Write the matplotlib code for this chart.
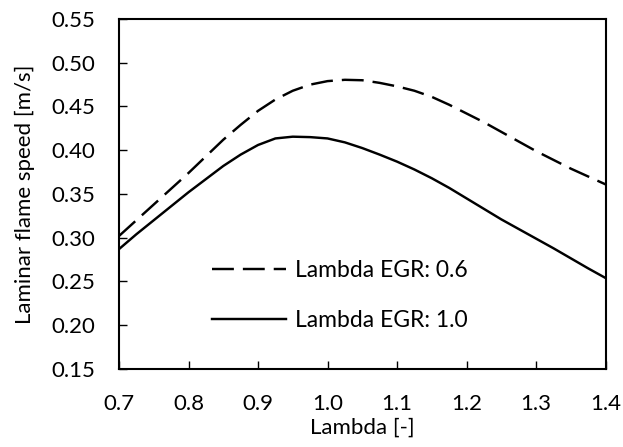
import matplotlib
import matplotlib.pyplot as plt

matplotlib.use('Agg')

plt.rcParams['font.family'] = ['Lato', 'DejaVu Sans']

# Laminar flame speed vs. lambda for two EGR lambdas
lambda_vals = [0.700, 0.725, 0.750, 0.775, 0.800, 0.825, 0.850, 0.875,
               0.900, 0.925, 0.950, 0.975, 1.000, 1.025, 1.050, 1.075,
               1.100, 1.125, 1.150, 1.175, 1.200, 1.225, 1.250, 1.275,
               1.300, 1.325, 1.350, 1.375, 1.400]
speed_egr_06 = [0.302, 0.320, 0.338, 0.356, 0.374, 0.393, 0.412, 0.429,
                0.445, 0.458, 0.468, 0.475, 0.479, 0.4805, 0.480, 0.477,
                0.473, 0.468, 0.461, 0.452, 0.442, 0.432, 0.421, 0.410,
                0.399, 0.389, 0.379, 0.370, 0.361]
speed_egr_10 = [0.287, 0.304, 0.320, 0.336, 0.352, 0.367, 0.382, 0.395,
                0.406, 0.4135, 0.4155, 0.415, 0.4135, 0.409, 0.4025, 0.395,
                0.387, 0.378, 0.368, 0.357, 0.345, 0.333, 0.321, 0.310,
                0.299, 0.288, 0.2765, 0.265, 0.254]

x_ticks = [0.7, 0.8, 0.9, 1.0, 1.1, 1.2, 1.3, 1.4]
y_ticks = [0.15, 0.20, 0.25, 0.30, 0.35, 0.40, 0.45, 0.50, 0.55]

fig = plt.figure(figsize=(6.23, 4.47), dpi=100)
ax = fig.add_axes([0.191, 0.1745, 0.781, 0.783])

ax.plot(lambda_vals, speed_egr_06, color='black', lw=1.75,
        dashes=(9.0, 3.7), label='Lambda EGR: 0.6')
ax.plot(lambda_vals, speed_egr_10, color='black', lw=1.75,
        label='Lambda EGR: 1.0')

ax.set_xlim(0.7, 1.4)
ax.set_ylim(0.15, 0.55)
ax.set_xticks(x_ticks)
ax.set_yticks(y_ticks)
ax.set_xticklabels([f'{t:.1f}' for t in x_ticks])
ax.set_yticklabels([f'{t:.2f}' for t in y_ticks])
ax.tick_params(direction='in', length=6, width=1, labelsize=16,
               top=False, right=False)
ax.tick_params(axis='x', pad=18)
ax.tick_params(axis='y', pad=17)

for s in ax.spines.values():
    s.set_linewidth(1.5)

ax.set_xlabel('Lambda [-]', fontsize=16, labelpad=3)
ax.set_ylabel('Laminar flame speed [m/s]', fontsize=16, labelpad=12)

ax.legend(loc='center left', bbox_to_anchor=(0.191, 0.21), frameon=False,
          fontsize=16.5, handlelength=3.23, handletextpad=0.41,
          labelspacing=1.23, borderpad=0, borderaxespad=0)

fig.savefig('out.png', dpi=100)
